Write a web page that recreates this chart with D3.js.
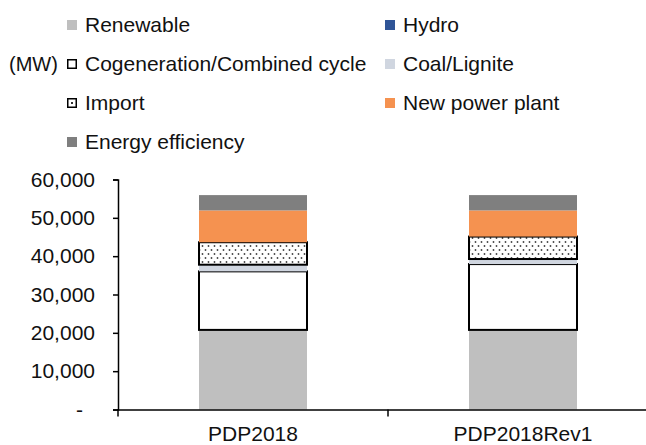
<!DOCTYPE html>
<html>
<head>
<meta charset="utf-8">
<script src="https://cdn.jsdelivr.net/npm/d3@7"></script>
<style>
  body { margin: 0; background: #fff; }
  text { font-family: "Liberation Sans", Arial, sans-serif; fill: #111; }
</style>
</head>
<body>
<div id="chart"></div>
<script>
// chart data (MW)
var categories = ["PDP2018", "PDP2018Rev1"];
var seriesNames = ["Renewable", "Hydro", "Cogeneration/Combined cycle", "Coal/Lignite",
                   "Import", "New power plant", "Energy efficiency"];
var renewable    = [20766, 20766];
var hydro        = [0, 0];
var cogeneration = [15268, 17170];
var coalLignite  = [1740, 1320];
var importMW     = [5857, 5857];
var newPlant     = [8300, 6820];
var efficiency   = [4000, 4000];
var yTicks = [0, 10000, 20000, 30000, 40000, 50000, 60000];

var width = 646, height = 445;

var svg = d3.select('#chart')
            .append('svg')
            .attr('width', width)
            .attr('height', height);

// dotted fill for Import
var defs = svg.append('defs');
var pat = defs.append('pattern')
              .attr('id', 'dots')
              .attr('width', 6)
              .attr('height', 8)
              .attr('patternUnits', 'userSpaceOnUse');
pat.append('rect').attr('width', 6).attr('height', 8).attr('fill', '#fff');
pat.append('circle').attr('cx', 1.5).attr('cy', 2).attr('r', 0.9).attr('fill', '#444');
pat.append('circle').attr('cx', 4.5).attr('cy', 6).attr('r', 0.9).attr('fill', '#444');

var style = {
    "Renewable":                  { fill: '#bfbfbf', stroke: 'none' },
    "Hydro":                      { fill: '#2f5597', stroke: 'none' },
    "Cogeneration/Combined cycle":{ fill: '#ffffff', stroke: '#000' },
    "Coal/Lignite":               { fill: '#d0d6e0', stroke: 'none' },
    "Import":                     { fill: 'url(#dots)', stroke: '#000' },
    "New power plant":            { fill: '#f59250', stroke: 'none' },
    "Energy efficiency":          { fill: '#7f7f7f', stroke: 'none' }
};

var columns = [renewable, hydro, cogeneration, coalLignite, importMW, newPlant, efficiency];
var rows = categories.map(function (c, i) {
    var r = { cat: c };
    seriesNames.forEach(function (s, k) { r[s] = columns[k][i]; });
    return r;
});

var stacked = d3.stack().keys(seriesNames)(rows);

var x = d3.scaleBand()
          .domain(categories)
          .range([118, 658]);

var y = d3.scaleLinear()
          .domain([0, 60000])
          .range([409.5, 179.5]);

var bw = x.bandwidth();

// Bars (skip empty segments)
var layer = svg.selectAll('g.layer')
               .data(stacked)
               .enter()
               .append('g')
               .attr('class', 'layer');

layer.selectAll('rect')
     .data(function (d) {
         return d.filter(function (p) { return p[1] - p[0] > 0; })
                 .map(function (p) { p.key = d.key; return p; });
     })
     .enter()
     .append('rect')
     .attr('x', function (d) { return x(d.data.cat) + bw * 0.3; })
     .attr('width', bw * 0.4)
     .attr('y', function (d) { return y(d[1]); })
     .attr('height', function (d) { return y(d[0]) - y(d[1]); })
     .attr('fill', function (d) { return style[d.key].fill; })
     .attr('stroke', function (d) { return style[d.key].stroke; })
     .attr('stroke-width', 2);

// Y axis
var yAxis = svg.append('g')
               .attr('transform', 'translate(118,0)')
               .call(d3.axisLeft(y)
                       .tickValues(yTicks)
                       .tickSize(5)
                       .tickPadding(18)
                       .tickFormat(function (d) { return d === 0 ? '-' : d3.format(',')(d); }));
yAxis.select('.domain').attr('stroke', '#000').attr('stroke-width', 1.5);
yAxis.selectAll('.tick line').attr('stroke', '#000').attr('stroke-width', 1.5);
yAxis.selectAll('.tick text')
     .style('font-size', '21px')
     .attr('fill', '#111')
     .attr('dx', function (d) { return d === 0 ? -12 : 0; });

// X axis
var xAxis = svg.append('g')
               .attr('transform', 'translate(0,409.5)')
               .call(d3.axisBottom(x).tickSize(0).tickSizeOuter(0));
xAxis.select('.domain').attr('stroke', '#000').attr('stroke-width', 1.5);
xAxis.selectAll('.tick text')
     .style('font-size', '21px')
     .attr('fill', '#111')
     .attr('y', 31)
     .attr('dy', 0);

// category boundary ticks
var bounds = categories.map(function (c) { return x(c); }).concat([x.range()[1]]);
xAxis.selectAll('line.bound')
     .data(bounds)
     .enter()
     .append('line')
     .attr('class', 'bound')
     .attr('x1', function (d) { return d; })
     .attr('x2', function (d) { return d; })
     .attr('y1', 0)
     .attr('y2', 7)
     .attr('stroke', '#000')
     .attr('stroke-width', 1.5);

// Legend
var legX = [67, 385];
var legY = [25, 64, 103, 142];

svg.append('text')
   .attr('x', 9)
   .attr('y', legY[1])
   .attr('dy', '0.35em')
   .style('font-size', '20px')
   .text('(MW)');

var leg = svg.selectAll('g.leg')
             .data(seriesNames)
             .enter()
             .append('g')
             .attr('class', 'leg')
             .attr('transform', function (d, i) {
                 return 'translate(' + legX[i % 2] + ',' + legY[Math.floor(i / 2)] + ')';
             });

leg.append('rect')
   .attr('x', function (d) { return style[d].stroke === 'none' ? 0 : 0.75; })
   .attr('y', function (d) { return style[d].stroke === 'none' ? -5 : -4.25; })
   .attr('width', function (d) { return style[d].stroke === 'none' ? 10 : 8.5; })
   .attr('height', function (d) { return style[d].stroke === 'none' ? 10 : 8.5; })
   .attr('fill', function (d) { return style[d].stroke === 'none' ? style[d].fill : '#fff'; })
   .attr('stroke', function (d) { return style[d].stroke; })
   .attr('stroke-width', 1.5);

leg.filter(function (d) { return d === 'Import'; })
   .append('rect')
   .attr('x', 4)
   .attr('y', -1)
   .attr('width', 2)
   .attr('height', 2)
   .attr('fill', '#333');

leg.append('text')
   .attr('x', 18)
   .attr('dy', '0.35em')
   .style('font-size', '21px')
   .text(function (d) { return d; });
</script>
</body>
</html>
